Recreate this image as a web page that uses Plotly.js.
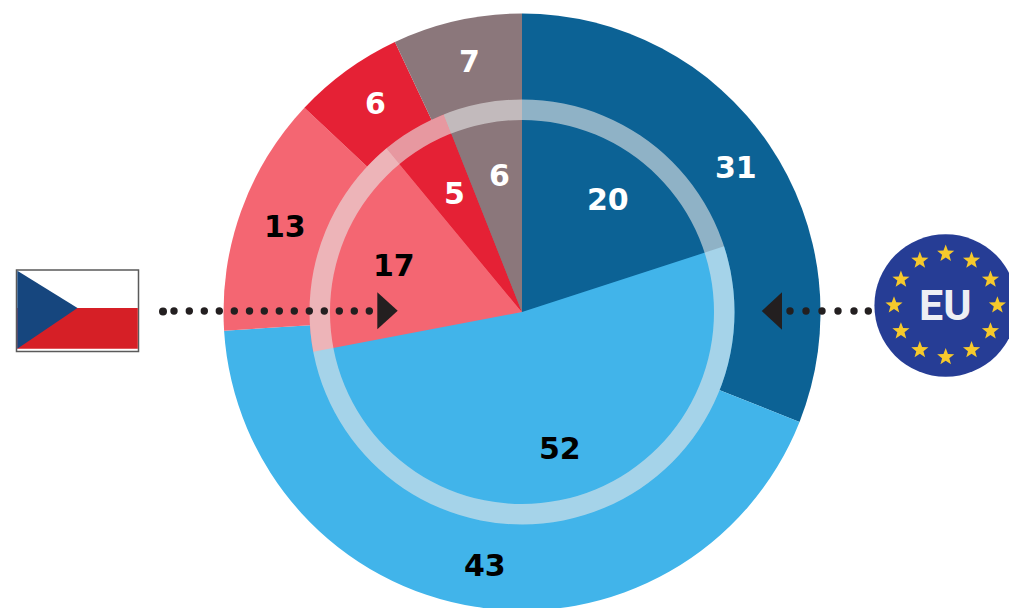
<!DOCTYPE html>
<html>
<head>
<meta charset="utf-8">
<script src="https://cdn.plot.ly/plotly-3.0.1.min.js"></script>
<style>html,body{margin:0;padding:0;width:1009px;height:608px;overflow:hidden;background:#fff}</style>
</head>
<body>
<div id="chart"></div>
<script>
// Chart data (clockwise from 12 o'clock)
const categories = ["Dark blue", "Light blue", "Pink", "Red", "Grey"];
const euValues = [31, 43, 13, 6, 7];
const czValues = [20, 52, 17, 5, 6];
const sliceColors = ["#0C6295", "#41B4EA", "#F46672", "#E52135", "#8B777B"];
const euTextColors = ["#fff", "#000", "#000", "#fff", "#fff"];
const czTextColors = ["#fff", "#000", "#000", "#fff", "#fff"];

// Label centres in page pixels
const euLabelPos = [[736,168],[485,565],[285,226],[375,104],[469,62]];
const czLabelPos = [[608,199],[560,448],[394,265],[454,193],[499,175]];

// Decoration
const leftDots = [163,174,189.3,204.3,219.3,234.3,249.5,264.3,279.3,294.3,309.3,324.3,339.3,354.3,369.3];
const rightDots = [790,806,822,838,854,868.3];

const W = 1009, H = 624;
const CX = 522, CY = 312, R_OUT = 298.5, R_IN = 212.5, R_HOLE = 192;
const px = x => x / W, py = y => 1 - y / H;
const domain = r => ({x:[px(CX - r), px(CX + r)], y:[py(CY + r), py(CY - r)]});

function pieTrace(values, names, colors, r, hole) {
  return {
    type: "pie", labels: names, values, domain: domain(r),
    sort: false, direction: "clockwise", rotation: 0, hole: hole || 0,
    marker: {colors, line: {width: 0}},
    textinfo: "none", hoverinfo: "skip", showlegend: false
  };
}

const traces = [
  pieTrace(euValues, categories, sliceColors, R_OUT),
  pieTrace(czValues, categories, sliceColors, R_IN),
  pieTrace([1], ["Ring"], ["rgba(232,232,232,0.6)"], R_IN, R_HOLE / R_IN)
];

const shapes = [];
const path = pts => "M" + pts.map(p => px(p[0]) + "," + py(p[1])).join("L") + "Z";
const poly = (pts, fill) => shapes.push({type:"path", xref:"paper", yref:"paper", path:path(pts), fillcolor:fill, line:{width:0}});
const circle = (x, y, r, fill) => shapes.push({type:"circle", xref:"paper", yref:"paper",
  x0:px(x-r), x1:px(x+r), y0:py(y+r), y1:py(y-r), fillcolor:fill, line:{width:0}});

// Czech flag
shapes.push({type:"rect", xref:"paper", yref:"paper", x0:px(16.5), x1:px(138.5), y0:py(351.5), y1:py(270),
  fillcolor:"#fff", line:{color:"#5a5a5a", width:1.5}});
poly([[17.3,308],[137.8,308],[137.8,348.7],[17.3,348.7]], "#D61F26");
poly([[17.3,270.8],[77.5,308],[17.3,348.7]], "#16467E");

// EU emblem
circle(945.7, 305.5, 71.3, "#263D95");
const starR = 9, ringR = 51.7;
for (let k = 0; k < 12; k++) {
  const a = k * Math.PI / 6, sx = 945.7 + ringR * Math.sin(a), sy = 305.3 - ringR * Math.cos(a);
  const pts = [];
  for (let j = 0; j < 10; j++) {
    const rr = j % 2 ? starR * 0.42 : starR, b = j * Math.PI / 5;
    pts.push([sx + rr * Math.sin(b), sy - rr * Math.cos(b)]);
  }
  poly(pts, "#F6C92C");
}

// Dotted arrows
const ink = "#231F20";
leftDots.forEach((x, i) => circle(x, i === 0 ? 311.5 : 311, i === 0 ? 4 : 3.7, ink));
rightDots.forEach(x => circle(x, 311, 3.7, ink));
poly([[377.3,292.3],[397.7,310.7],[377.3,329.3]], ink);
poly([[761.7,311],[782,292.3],[782,329.7]], ink);

const note = (v, p, color) => ({
  text:"<b>" + v + "</b>", x:px(p[0]), y:py(p[1]), xref:"paper", yref:"paper",
  xanchor:"center", yanchor:"middle", showarrow:false,
  font:{family:"DejaVu Sans", size:30, color}
});
const annotations = [
  ...euValues.map((v,i) => note(v, euLabelPos[i], euTextColors[i])),
  ...czValues.map((v,i) => note(v, czLabelPos[i], czTextColors[i])),
  {text:"<b>EU</b>", x:px(945), y:py(305.5), xref:"paper", yref:"paper", xanchor:"center", yanchor:"middle",
   showarrow:false, font:{family:"Roboto", size:43, color:"#EDEFF4"}}
];

Plotly.newPlot("chart", traces, {
  width:W, height:H, margin:{l:0,r:0,t:0,b:0},
  paper_bgcolor:"#fff", plot_bgcolor:"#fff", showlegend:false,
  shapes, annotations
}, {displayModeBar:false, staticPlot:true});
</script>
</body>
</html>
